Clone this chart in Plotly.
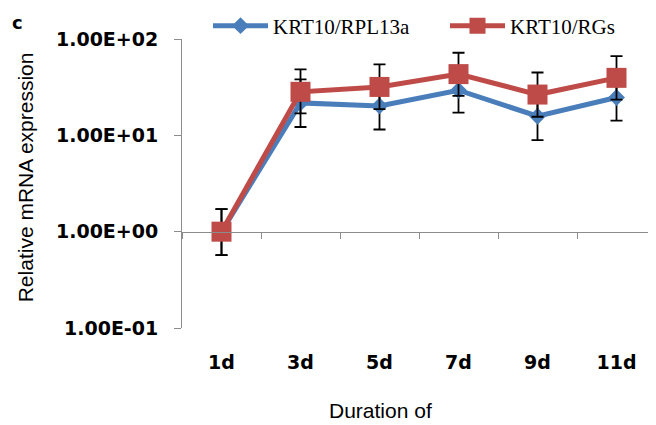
import plotly.graph_objects as go

categories = ["1d", "3d", "5d", "7d", "9d", "11d"]
rpl13a = [1.0, 21.7, 20.2, 29.4, 15.8, 24.7]
rpl13a_err_plus = [0.71, 16.4, 14.9, 20.5, 11.7, 18.2]
rpl13a_err_minus = [0.43, 9.5, 8.7, 12.2, 6.9, 10.5]
rgs = [1.0, 28.3, 31.8, 43.2, 26.5, 39.5]
rgs_err_plus = [0.71, 20.1, 22.6, 28.8, 18.4, 27.0]
rgs_err_minus = [0.43, 11.4, 13.1, 17.5, 10.9, 16.0]
ytick_vals = [0.1, 1, 10, 100]
ytick_text = ["1.00E-01", "1.00E+00", "1.00E+01", "1.00E+02"]

BLUE = "#4a7ebb"
RED = "#be4b48"
AXIS = "#8c8c8c"

# the page body has an 8px default margin, so the figure is laid out 8px up/left
fig = go.Figure()
fig.add_trace(go.Scatter(
    x=categories, y=rpl13a, name="KRT10/RPL13a", mode="lines+markers",
    line=dict(color=BLUE, width=5),
    marker=dict(symbol="diamond", size=13, color=BLUE),
    error_y=dict(type="data", symmetric=False, array=rpl13a_err_plus,
                 arrayminus=rpl13a_err_minus, color="black", thickness=1.8, width=6),
    xaxis="x", yaxis="y",
))
fig.add_trace(go.Scatter(
    x=categories, y=rgs, name="KRT10/RGs", mode="lines+markers",
    line=dict(color=RED, width=5),
    marker=dict(symbol="square", size=20, color=RED),
    error_y=dict(type="data", symmetric=False, array=rgs_err_plus,
                 arrayminus=rgs_err_minus, color="black", thickness=1.8, width=6),
    xaxis="x2", yaxis="y",
))

fig.update_layout(
    width=656, height=425, autosize=False,
    margin=dict(l=174, r=8, t=31, b=105, pad=0, autoexpand=False),
    paper_bgcolor="white", plot_bgcolor="white",
    font=dict(family="Liberation Sans", color="black"),
    xaxis=dict(
        type="category", categoryorder="array", categoryarray=categories,
        range=[-0.5, 5.5], showline=False, ticks="", showgrid=False, zeroline=False,
        tickfont=dict(family="DejaVu Sans", size=19, color="black", weight="bold"),
        ticklabelstandoff=21, automargin=False,
    ),
    xaxis2=dict(
        type="category", categoryorder="array", categoryarray=categories,
        range=[-0.5, 5.5], overlaying="x", anchor="free", position=1/3,
        showline=True, linecolor=AXIS, linewidth=1,
        ticks="outside", ticklen=6, tickcolor=AXIS, tickwidth=1, tickson="boundaries",
        showticklabels=False, showgrid=False, zeroline=False, automargin=False,
    ),
    yaxis=dict(
        type="log", range=[-1, 2], tickvals=ytick_vals, ticktext=ytick_text,
        showline=True, linecolor=AXIS, linewidth=1,
        ticks="outside", ticklen=7, tickcolor=AXIS, tickwidth=1,
        showgrid=False, zeroline=False, automargin=False,
        tickfont=dict(family="DejaVu Sans", size=19, color="black", weight="bold"),
        ticklabelstandoff=12,
    ),
    legend=dict(
        orientation="h", xref="container", x=200 / 656, xanchor="left",
        yref="container", y=1 - 18 / 425, yanchor="middle",
        font=dict(family="Liberation Serif", size=21, color="black"),
        bgcolor="rgba(0,0,0,0)", itemwidth=55, entrywidth=167,
    ),
    annotations=[
        dict(text="Relative mRNA expression", textangle=-90, xref="paper", yref="paper",
             x=-0.33, y=0.52, xanchor="center", yanchor="middle", showarrow=False,
             font=dict(family="Liberation Sans", size=21, color="black")),
        dict(text="Duration of", xref="paper", yref="paper",
             x=0.419, y=-0.286, xanchor="center", yanchor="middle", showarrow=False,
             font=dict(family="Liberation Sans", size=21, color="black")),
        dict(text="c", xref="paper", yref="paper",
             x=-0.363, y=1.058, xanchor="left", yanchor="middle", showarrow=False,
             font=dict(family="DejaVu Sans", size=18, color="black", weight="bold")),
    ],
)

fig.write_html("out.html")
